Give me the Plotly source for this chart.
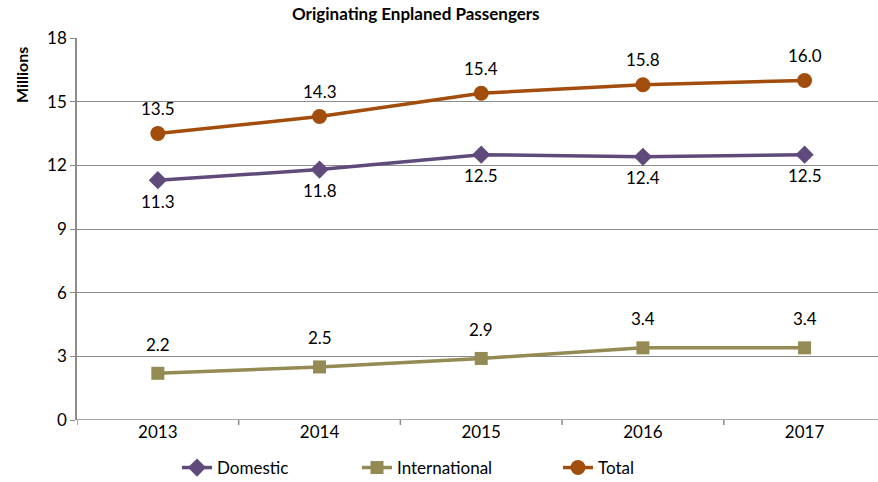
import plotly.graph_objects as go

years = ["2013", "2014", "2015", "2016", "2017"]
domestic = [11.3, 11.8, 12.5, 12.4, 12.5]
international = [2.2, 2.5, 2.9, 3.4, 3.4]
total = [13.5, 14.3, 15.4, 15.8, 16.0]
y_ticks = [0, 3, 6, 9, 12, 15, 18]

FONT = "Lato, 'Open Sans', sans-serif"
C_DOM = "#604A7B"
C_INT = "#948A54"
C_TOT = "#A24D0C"

W, H = 878, 482
L, R, T, B = 77, 0, 38, 62
PW, PH = W - L - R, H - T - B

fig = go.Figure()
xs = list(range(len(years)))
fig.add_trace(go.Scatter(x=xs, y=domestic, name="Domestic", mode="lines+markers", legend="legend",
                         line=dict(color=C_DOM, width=3.5),
                         marker=dict(symbol="diamond", size=14, color=C_DOM)))
fig.add_trace(go.Scatter(x=xs, y=international, name="International", mode="lines+markers", legend="legend2",
                         line=dict(color=C_INT, width=3.5),
                         marker=dict(symbol="square", size=13, color=C_INT)))
fig.add_trace(go.Scatter(x=xs, y=total, name="Total", mode="lines+markers", legend="legend3",
                         line=dict(color=C_TOT, width=3.5),
                         marker=dict(symbol="circle", size=15, color=C_TOT)))

ann = []
for series, shift in ((domestic, -21), (international, 29), (total, 25)):
    for i, v in enumerate(series):
        ann.append(dict(x=i, y=v, xref="x", yref="y", text=f"{v:.1f}", showarrow=False,
                        yshift=shift, font=dict(family=FONT, size=17, color="#000")))
ann.append(dict(x=(416 - L) / PW, y=1 + (T - 14) / PH, xref="paper", yref="paper",
                text="<b>Originating Enplaned Passengers</b>", showarrow=False, yanchor="middle",
                font=dict(family=FONT, size=17, color="#000")))
ann.append(dict(x=(22 - L) / PW, y=1 - (75 - T) / PH, xref="paper", yref="paper",
                text="<b>Millions</b>", showarrow=False, textangle=-90, xanchor="center", yanchor="middle",
                font=dict(family=FONT, size=16, color="#000")))


def leg(px):
    return dict(orientation="h", x=(px - 6 - L) / PW, xanchor="left", y=-(468 - 420) / PH, yanchor="middle",
                itemwidth=30, bgcolor="rgba(0,0,0,0)",
                font=dict(family=FONT, size=17, color="#000"))


fig.update_layout(
    width=W, height=H,
    margin=dict(l=L, r=R, t=T, b=B, autoexpand=False),
    paper_bgcolor="white", plot_bgcolor="white",
    showlegend=True,
    legend=leg(183), legend2=leg(363), legend3=leg(564),
    xaxis=dict(range=[-0.5, 4.454], tickmode="array", tickvals=xs, ticktext=years,
               showgrid=False, zeroline=False, showline=False,
               ticks="", tickfont=dict(family=FONT, size=17, color="#000")),
    yaxis=dict(range=[0, 18], tickvals=y_ticks, showgrid=True, gridcolor="#8C8C8C", gridwidth=1.2,
               zeroline=False, showline=True, linecolor="#8C8C8C", linewidth=1.5,
               ticks="outside", ticklen=5, tickcolor="#8C8C8C",
               tickfont=dict(family=FONT, size=17, color="#000")),
    annotations=ann,
)

# category boundary ticks on x axis
for b in [-0.5, 0.5, 1.5, 2.5, 3.5, 4.5]:
    fig.add_shape(type="line", xref="x", yref="paper", x0=b, x1=b, y0=0, y1=-5 / PH,
                  line=dict(color="#8C8C8C", width=1.5))
fig.add_shape(type="line", xref="paper", yref="y", x0=0, x1=1, y0=0, y1=0,
              line=dict(color="#8C8C8C", width=1.5))

fig.write_html("out.html", config={"displayModeBar": False},
               post_script="document.body.style.margin='0';")
